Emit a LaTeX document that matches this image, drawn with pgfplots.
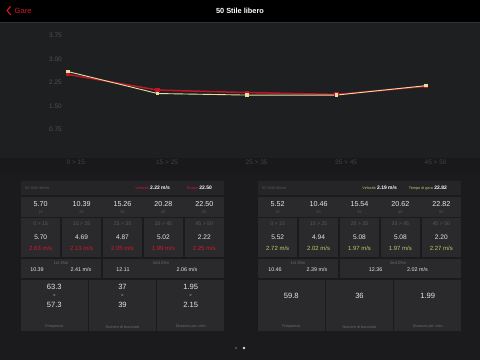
\documentclass[border=0pt]{standalone}
\usepackage{pgfplots}
\pgfplotsset{compat=1.18}
\usepackage{fontspec}
\setmainfont{Liberation Sans}
\definecolor{chartbg}{HTML}{1E1F21}
\definecolor{bandbg}{HTML}{19191B}
\definecolor{lowbg}{HTML}{1B1B1D}
\definecolor{hdrcell}{HTML}{252527}
\definecolor{cell}{HTML}{2A2A2C}
\definecolor{redline}{HTML}{C0142E}
\definecolor{redtxt}{HTML}{D0182F}
\definecolor{yelline}{HTML}{E4E29A}
\definecolor{yeltxt}{HTML}{BCCB6A}
\definecolor{valwhite}{HTML}{E6E6E6}
\definecolor{labgray}{HTML}{6A6A6C}
\definecolor{tickgray}{HTML}{505052}
\definecolor{xtickgray}{HTML}{434345}
\begin{document}
\begin{tikzpicture}
\begin{scope}[x=1bp,y=-1bp]
\fill[lowbg] (0,0) rectangle (480,360);
\fill[chartbg] (0,22.5) rectangle (480,158);
\fill[bandbg] (0,158) rectangle (480,173);
\fill[black] (0,0) rectangle (480,22);
\fill[black!80!white] (0,22) rectangle (480,22.6);
% top bar
\draw[redtxt, line width=1.1bp, line cap=round, line join=round] (10.5,6.5) -- (7,10.5) -- (10.5,14.5);
\node[anchor=west, inner sep=0, text=redtxt, font=\fontsize{7.6}{8}\selectfont] at (14.5,10.5) {Gare};
\node[inner sep=0, text=white, font=\bfseries\fontsize{7.4}{8}\selectfont] at (240,10.5) {50 Stile libero};
% panels
\foreach \dx in {0,237} {
\begin{scope}[xshift=\dx bp]
\fill[hdrcell] (21,181) rectangle (224,195);
\fill[cell] (21,196.5) rectangle (224,216.5);
\foreach \a/\b in {21/60.4,61.9/101.3,102.8/142.2,143.7/183.1,184.6/224}
  \fill[cell] (\a,218) rectangle (\b,257);
\fill[cell] (21,258.5) rectangle (101.3,278);
\fill[cell] (102.8,258.5) rectangle (224,278);
\foreach \a/\b in {21/87.7,89.2/155.8,157.3/224}
  \fill[cell] (\a,279.5) rectangle (\b,331);
\node[anchor=west, inner sep=0, text=labgray!80!black, font=\fontsize{4}{5}\selectfont] at (25,188) {50 Stile libero};
\foreach \x/\s in {40.7/0 > 15,81.6/15 > 25,122.5/25 > 35,163.4/35 > 45,204.3/45 > 50}
  \node[inner sep=0, text=labgray!85!black, font=\fontsize{5.2}{6}\selectfont] at (\x,223.3) {\s};
\foreach \x/\s in {40.7/15,81.6/25,122.5/35,163.4/45,204.3/50}
  \node[inner sep=0, text=labgray!80!black, font=\fontsize{4}{5}\selectfont] at (\x,212.3) {\s};
\node[inner sep=0, text=labgray, font=\fontsize{4.2}{5}\selectfont] at (61,263) {1st 25m};
\node[inner sep=0, text=labgray, font=\fontsize{4.2}{5}\selectfont] at (161,263) {2nd 25m};
\node[inner sep=0, text=labgray, font=\fontsize{3.8}{5}\selectfont] at (54.3,326.7) {Frequenza};
\node[inner sep=0, text=labgray, font=\fontsize{3.8}{5}\selectfont] at (122.5,326.7) {Numero di bracciate};
\node[inner sep=0, text=labgray, font=\fontsize{3.8}{5}\selectfont] at (190.7,326.7) {Distanza per ciclo};
\end{scope}
}
% left panel texts
\node[anchor=east, inner sep=0, font=\fontsize{5}{6}\selectfont] at (170,188) {\textcolor{redtxt}{\fontsize{3.8}{5}\selectfont Velocità} \textcolor{white}{\bfseries 2.22 m/s}};
\node[anchor=east, inner sep=0, font=\fontsize{5}{6}\selectfont] at (212,188) {\textcolor{redtxt}{\fontsize{3.8}{5}\selectfont Tempo} \textcolor{white}{\bfseries 22.50}};
\foreach \x/\v/\w/\s in {40.7/5.70/5.70/2.63,81.6/10.39/4.69/2.13,122.5/15.26/4.87/2.05,163.4/20.28/5.02/1.99,204.3/22.50/2.22/2.25} {
  \node[inner sep=0, text=valwhite, font=\fontsize{7.2}{8}\selectfont] at (\x,204.3) {\v};
  \node[inner sep=0, text=valwhite, font=\fontsize{6.6}{8}\selectfont] at (\x,237.3) {\w};
  \node[inner sep=0, text=redtxt, font=\fontsize{6}{7}\selectfont] at (\x,248.3) {\s{} m/s};
}
\node[inner sep=0, text=valwhite, font=\fontsize{5.4}{6}\selectfont] at (37,270) {10.39};
\node[inner sep=0, text=valwhite, font=\fontsize{5.4}{6}\selectfont] at (81,270) {2.41 m/s};
\node[inner sep=0, text=valwhite, font=\fontsize{5.4}{6}\selectfont] at (123,270) {12.11};
\node[inner sep=0, text=valwhite, font=\fontsize{5.4}{6}\selectfont] at (187,270) {2.06 m/s};
\foreach \x/\a/\b in {54.3/63.3/57.3,122.5/37/39,190.7/1.95/2.15} {
  \node[inner sep=0, text=valwhite, font=\fontsize{7.6}{8}\selectfont] at (\x,287.3) {\a};
  \node[inner sep=0, text=valwhite, font=\fontsize{7.6}{8}\selectfont] at (\x,296) {-};
  \node[inner sep=0, text=valwhite, font=\fontsize{7.6}{8}\selectfont] at (\x,305) {\b};
}
% right panel texts
\node[anchor=east, inner sep=0, font=\fontsize{5}{6}\selectfont] at (397,188) {\textcolor{yeltxt}{\fontsize{3.8}{5}\selectfont Velocità} \textcolor{white}{\bfseries 2.19 m/s}};
\node[anchor=east, inner sep=0, font=\fontsize{5}{6}\selectfont] at (447,188) {\textcolor{yeltxt}{\fontsize{3.8}{5}\selectfont Tempo di gara} \textcolor{white}{\bfseries 22.82}};
\foreach \x/\v/\w/\s in {277.7/5.52/5.52/2.72,318.6/10.46/4.94/2.02,359.5/15.54/5.08/1.97,400.4/20.62/5.08/1.97,441.3/22.82/2.20/2.27} {
  \node[inner sep=0, text=valwhite, font=\fontsize{7.2}{8}\selectfont] at (\x,204.3) {\v};
  \node[inner sep=0, text=valwhite, font=\fontsize{6.6}{8}\selectfont] at (\x,237.3) {\w};
  \node[inner sep=0, text=yeltxt, font=\fontsize{6}{7}\selectfont] at (\x,248.3) {\s{} m/s};
}
\node[inner sep=0, text=valwhite, font=\fontsize{5.4}{6}\selectfont] at (275,270) {10.46};
\node[inner sep=0, text=valwhite, font=\fontsize{5.4}{6}\selectfont] at (317,270) {2.39 m/s};
\node[inner sep=0, text=valwhite, font=\fontsize{5.4}{6}\selectfont] at (375.7,270) {12.36};
\node[inner sep=0, text=valwhite, font=\fontsize{5.4}{6}\selectfont] at (417.5,270) {2.02 m/s};
\foreach \x/\a in {291.3/59.8,359.5/36,427.7/1.99}
  \node[inner sep=0, text=valwhite, font=\fontsize{7.6}{8}\selectfont] at (\x,296) {\a};
% page dots
\fill[gray!60!black] (236,348) circle (1.4);
\fill[white!85!black] (244,348) circle (1.4);
\end{scope}
\begin{axis}[at={(68bp,-156.8bp)}, anchor=south west, scale only axis,
  width=358bp, height=117.5bp, xmin=0, xmax=4, ymin=0, ymax=3.75,
  axis line style={draw=none}, major tick style={draw=none}, clip=false,
  ytick={0.75,1.5,2.25,3,3.75}, yticklabels={0.75,1.50,2.25,3.00,3.75},
  xtick={0,1,2,3,4}, xticklabels={0 > 15,15 > 25,25 > 35,35 > 45,45 > 50},
  ticklabel style={font=\fontsize{6.5}{7}\selectfont},
  yticklabel style={anchor=south east, inner sep=0pt, xshift=-6bp, yshift=1.5bp, text=tickgray},
  xticklabel style={anchor=west, inner sep=0pt, xshift=-1.5bp, yshift=-5.2bp, text=xtickgray}]
\addplot[color=redline, line width=1.5bp, mark=square*, mark size=1.3bp, mark options={fill=redline, draw=redline}] coordinates {(0,2.63)(1,2.13)(2,2.05)(3,1.99)(4,2.25)};
\addplot[color=yelline, line width=0.9bp, mark=square*, mark size=1.2bp, mark options={fill=yelline, draw=yelline}] coordinates {(0,2.72)(1,2.02)(2,1.97)(3,1.97)(4,2.27)};
\end{axis}
\pgfresetboundingbox
\useasboundingbox (0,0) rectangle (480bp,-360bp);
\end{tikzpicture}
\end{document}
